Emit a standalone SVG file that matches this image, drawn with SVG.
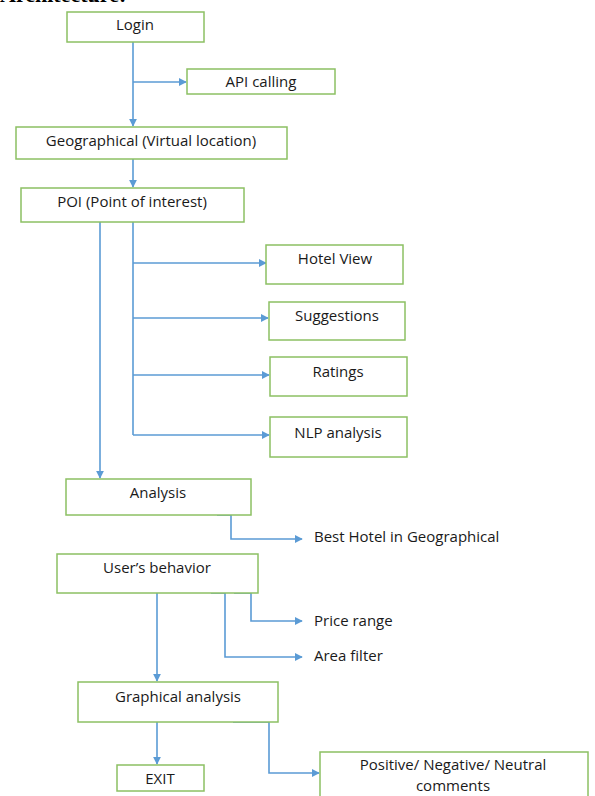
<svg xmlns="http://www.w3.org/2000/svg" width="595" height="796" viewBox="0 0 595 796">
<style>
.box{fill:#fff;stroke:#8cc063;stroke-width:1.5}
.t{font-family:"Open Sans","Liberation Sans",sans-serif;font-size:15px;fill:#1a1a1a;text-anchor:middle}
.l{font-family:"Open Sans","Liberation Sans",sans-serif;font-size:15px;fill:#1a1a1a}
.c{fill:none;stroke:#5b9bd5;stroke-width:1.6}
.h{font-family:"Liberation Serif",serif;font-weight:bold;font-size:22px;fill:#000}
</style>
<defs>
<marker id="a" viewBox="0 0 10 10" refX="9" refY="5" markerWidth="8" markerHeight="8" orient="auto" markerUnits="userSpaceOnUse">
<path d="M0,0 L10,5 L0,10 z" fill="#5b9bd5"/>
</marker>
</defs>
<rect width="595" height="796" fill="#fff"/>
<text class="h" x="0" y="2">Architecture:</text>
<g id="connectors">
<path class="c" d="M133,42 V126" marker-end="url(#a)"/>
<path class="c" d="M133,82 H186" marker-end="url(#a)"/>
<path class="c" d="M133,159 V187" marker-end="url(#a)"/>
<path class="c" d="M100,222 V478" marker-end="url(#a)"/>
<path class="c" d="M133,222 V435"/>
<path class="c" d="M133,263 H266" marker-end="url(#a)"/>
<path class="c" d="M133,318 H268" marker-end="url(#a)"/>
<path class="c" d="M133,375 H269" marker-end="url(#a)"/>
<path class="c" d="M133,435 H269" marker-end="url(#a)"/>
<path class="c" d="M217,515 H231 V539 H302" marker-end="url(#a)"/>
<path class="c" d="M234,593 H251 V621 H302" marker-end="url(#a)"/>
<path class="c" d="M211,593 H225 V657 H302" marker-end="url(#a)"/>
<path class="c" d="M157,593 V681" marker-end="url(#a)"/>
<path class="c" d="M157,722 V764" marker-end="url(#a)"/>
<path class="c" d="M233,722 H269 V773 H319" marker-end="url(#a)"/>
</g>
<g id="login"><rect class="box" x="67" y="12" width="137" height="30"/><text class="t" x="135" y="30">Login</text></g>
<g id="api"><rect class="box" x="187" y="69" width="148" height="25"/><text class="t" x="261" y="87">API calling</text></g>
<g id="geo"><rect class="box" x="16" y="127" width="271" height="32"/><text class="t" x="151" y="146">Geographical (Virtual location)</text></g>
<g id="poi"><rect class="box" x="21" y="188" width="223" height="34"/><text class="t" x="132" y="207">POI (Point of interest)</text></g>
<g id="hotelview"><rect class="box" x="266" y="245" width="137" height="39"/><text class="t" x="335" y="264">Hotel View</text></g>
<g id="suggestions"><rect class="box" x="269" y="302" width="136" height="38"/><text class="t" x="337" y="321">Suggestions</text></g>
<g id="ratings"><rect class="box" x="270" y="357" width="137" height="39"/><text class="t" x="338" y="377">Ratings</text></g>
<g id="nlp"><rect class="box" x="270" y="417" width="137" height="40"/><text class="t" x="338" y="438">NLP analysis</text></g>
<g id="analysis"><rect class="box" x="66" y="479" width="185" height="36"/><text class="t" x="158" y="498">Analysis</text></g>
<g id="besthotel"><text class="l" x="314" y="542">Best Hotel in Geographical</text></g>
<g id="userbehavior"><rect class="box" x="57" y="554" width="201" height="39"/><text class="t" x="157" y="573">User’s behavior</text></g>
<g id="pricerange"><text class="l" x="314" y="626">Price range</text></g>
<g id="areafilter"><text class="l" x="314" y="661">Area filter</text></g>
<g id="graphical"><rect class="box" x="78" y="682" width="200" height="40"/><text class="t" x="178" y="702">Graphical analysis</text></g>
<g id="exit"><rect class="box" x="117" y="765" width="87" height="26"/><text class="t" x="160" y="784">EXIT</text></g>
<g id="comments"><rect class="box" x="320" y="752" width="268" height="50"/><text class="t" x="453" y="770">Positive/ Negative/ Neutral</text><text class="t" x="453" y="791">comments</text></g>
</svg>
